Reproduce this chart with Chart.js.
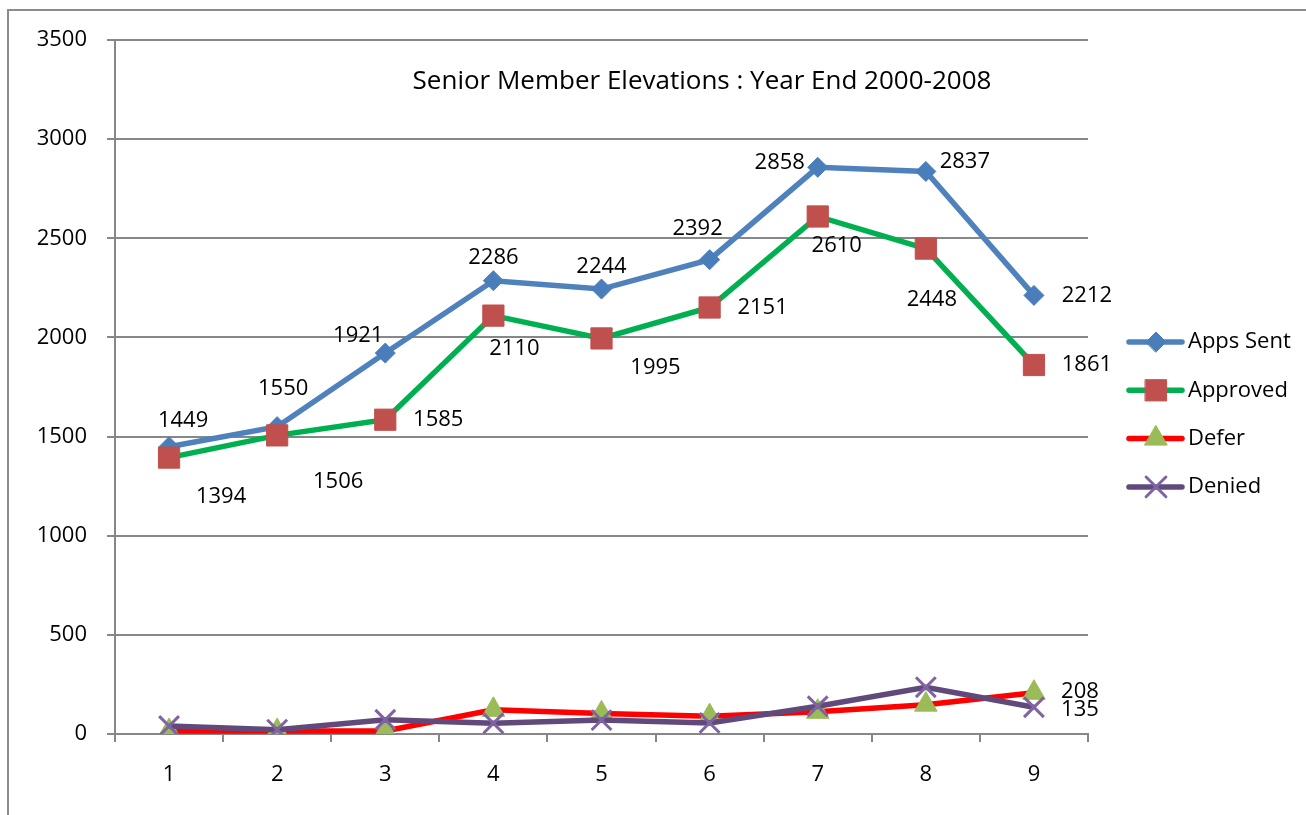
<!DOCTYPE html>
<html>
<head>
<meta charset="utf-8">
<script src="https://cdn.jsdelivr.net/npm/chart.js@4.4.0/dist/chart.umd.min.js"></script>
<style>
  html, body { margin: 0; padding: 0; background: #fff; }
  #wrap { width: 1306px; height: 815px; position: relative; }
</style>
</head>
<body>
<div id="wrap"><canvas id="chart" width="1306" height="815"></canvas></div>
<script>
const categories = ['1', '2', '3', '4', '5', '6', '7', '8', '9'];
const appsSent = [1449, 1550, 1921, 2286, 2244, 2392, 2858, 2837, 2212];
const approved = [1394, 1506, 1585, 2110, 1995, 2151, 2610, 2448, 1861];
const defer = [15, 15, 15, 122, 104, 90, 112, 148, 208];
const denied = [40, 22, 72, 54, 70, 56, 140, 236, 135];
const yTicks = [0, 500, 1000, 1500, 2000, 2500, 3000, 3500];
const titleText = 'Senior Member Elevations : Year End 2000-2008';

// where each value label sits, relative to its point (null = no label)
const appsLabelPos = [[14, -26], [6, -38], [-27, -17], [0, -23], [0, -22], [-12, -31], [-38, -5], [39, -10], [53, 0]];
const approvedLabelPos = [[52, 39], [61, 46], [53, 0], [21, 33], [54, 29], [53, 0], [19, 29], [6, 51], [53, 0]];
const deferLabelPos = [null, null, null, null, null, null, null, null, [46, -1]];
const deniedLabelPos = [null, null, null, null, null, null, null, null, [46, 3]];

const FONT = '"Open Sans", "Liberation Sans", sans-serif';
const GRID = '#878787';

const frame = {
  id: 'frame',
  beforeDraw(chart) {
    const c = chart.ctx;
    c.save();
    c.fillStyle = '#fff';
    c.fillRect(0, 0, chart.width, chart.height);
    c.strokeStyle = '#8c8c8c';
    c.lineWidth = 2;
    c.beginPath();
    c.moveTo(8, chart.height + 2);
    c.lineTo(8, 10);
    c.lineTo(chart.width + 2, 10);
    c.stroke();
    c.restore();
  }
};

const valueLabels = {
  id: 'valueLabels',
  afterDatasetsDraw(chart) {
    const c = chart.ctx;
    c.save();
    c.font = '22px ' + FONT;
    c.fillStyle = '#000';
    c.textAlign = 'center';
    c.textBaseline = 'middle';
    chart.data.datasets.forEach((ds, di) => {
      const meta = chart.getDatasetMeta(di);
      ds.labelPos.forEach((p, i) => {
        if (!p) return;
        const pt = meta.data[i];
        c.fillText(String(ds.data[i]), pt.x + p[0], pt.y + p[1]);
      });
    });
    c.restore();
  }
};

const titleAndLegend = {
  id: 'titleAndLegend',
  afterDraw(chart) {
    const c = chart.ctx;
    c.save();
    c.fillStyle = '#000';
    c.font = '26px ' + FONT;
    c.textAlign = 'center';
    c.textBaseline = 'middle';
    c.fillText(titleText, 702, 82);

    c.font = '22px ' + FONT;
    c.textAlign = 'left';
    chart.data.datasets.forEach((ds, i) => {
      const y = 342 + i * 48.3;
      c.strokeStyle = ds.borderColor;
      c.lineWidth = 5.5;
      c.lineCap = 'round';
      c.beginPath();
      c.moveTo(1129, y);
      c.lineTo(1182, y);
      c.stroke();
      c.fillStyle = ds.pointBackgroundColor;
      c.strokeStyle = ds.pointBorderColor;
      c.lineWidth = ds.pointBorderWidth;
      Chart.helpers.drawPoint(c, {
        pointStyle: ds.pointStyle,
        radius: ds.pointRadius,
        borderWidth: ds.pointBorderWidth
      }, 1156, y);
      c.fillStyle = '#000';
      c.fillText(ds.label, 1188, y);
    });
    c.restore();
  }
};

function series(label, data, line, marker, style, radius, labelPos, order) {
  return {
    label, data, labelPos, order,
    borderColor: line,
    borderWidth: 5.5,
    tension: 0,
    pointStyle: style,
    pointRadius: radius,
    pointHoverRadius: radius,
    pointBackgroundColor: marker,
    pointBorderColor: marker,
    pointBorderWidth: style === 'crossRot' ? 3 : 1
  };
}

new Chart(document.getElementById('chart'), {
  type: 'line',
  data: {
    labels: categories,
    datasets: [
      series('Apps Sent', appsSent, '#4F81BD', '#4A7EBB', 'rectRot', 10, appsLabelPos, 4),
      series('Approved', approved, '#00B050', '#C0504D', 'rect', 15, approvedLabelPos, 3),
      series('Defer', defer, '#FF0000', '#9BBB59', 'triangle', 13, deferLabelPos, 2),
      series('Denied', denied, '#604A7B', '#8064A2', 'crossRot', 14, deniedLabelPos, 1)
    ]
  },
  options: {
    responsive: false,
    animation: false,
    layout: { padding: { left: 0, top: 40, right: 218, bottom: 0 } },
    plugins: {
      legend: { display: false },
      title: { display: false },
      tooltip: { enabled: false }
    },
    scales: {
      x: {
        offset: true,
        grid: { offset: true, drawOnChartArea: false, drawTicks: true, tickLength: 8, color: GRID, lineWidth: 2 },
        border: { color: GRID, width: 2 },
        ticks: { color: '#000', font: { family: FONT, size: 22 }, padding: 20, maxRotation: 0 },
        afterFit(scale) { scale.height = 81; }
      },
      y: {
        min: 0,
        max: 3500,
        afterBuildTicks(scale) { scale.ticks = yTicks.map(v => ({ value: v })); },
        grid: { color: GRID, lineWidth: 2, tickLength: 8 },
        border: { color: GRID, width: 2 },
        ticks: { color: '#000', font: { family: FONT, size: 22 }, padding: 20, callback: v => String(v) },
        afterFit(scale) { scale.width = 115; }
      }
    }
  },
  plugins: [frame, valueLabels, titleAndLegend]
});
</script>
</body>
</html>
